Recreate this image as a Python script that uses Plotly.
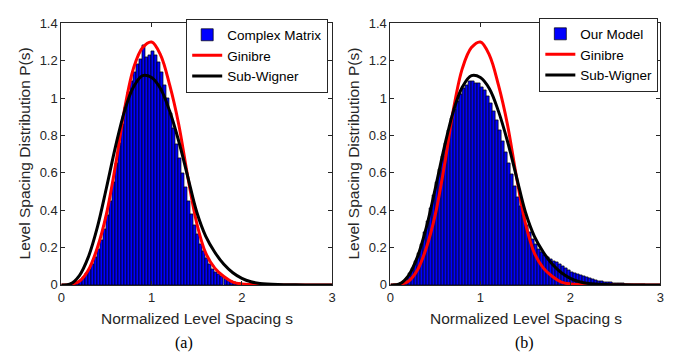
import numpy as np
import plotly.graph_objects as go

# ---------------- data ----------------
BIN = 1 / 30  # histogram bin width
# left panel: Complex Matrix histogram heights (bins of width 1/30 starting at 0)
hist_complex = [
    0, 0, 0.002, 0.005, 0.01, 0.016, 0.026, 0.04, 0.06, 0.085,
    0.11, 0.15, 0.19, 0.24, 0.30, 0.37, 0.45, 0.55, 0.65, 0.76,
    0.86, 0.95, 1.03, 1.09, 1.14, 1.18, 1.21, 1.28, 1.22, 1.23,
    1.25, 1.23, 1.19, 1.14, 1.07, 1.00, 0.92, 0.84, 0.75, 0.68,
    0.60, 0.52, 0.45, 0.38, 0.32, 0.27, 0.22, 0.18, 0.14, 0.11,
    0.085, 0.07, 0.055, 0.045, 0.035, 0.027, 0.02, 0.015, 0.011, 0.008,
    0.006, 0.004, 0.003, 0.002, 0.001, 0.001, 0.001, 0, 0, 0,
    0, 0, 0, 0, 0, 0, 0, 0, 0, 0,
    0, 0, 0, 0, 0, 0, 0, 0, 0, 0,
]
# right panel: Our Model histogram heights
hist_model = [
    0, 0.001, 0.003, 0.008, 0.02, 0.035, 0.06, 0.09, 0.125, 0.17,
    0.22, 0.28, 0.34, 0.41, 0.48, 0.55, 0.62, 0.69, 0.76, 0.83,
    0.89, 0.94, 0.98, 1.02, 1.05, 1.07, 1.09, 1.09, 1.08, 1.08,
    1.06, 1.04, 1.01, 0.97, 0.93, 0.88, 0.83, 0.77, 0.71, 0.65,
    0.59, 0.53, 0.47, 0.42, 0.37, 0.32, 0.28, 0.245, 0.215, 0.19,
    0.172, 0.16, 0.146, 0.135, 0.128, 0.12, 0.11, 0.10, 0.09, 0.08,
    0.07, 0.062, 0.055, 0.05, 0.045, 0.04, 0.035, 0.03, 0.026, 0.022,
    0.019, 0.016, 0.014, 0.012, 0.011, 0.01, 0.009, 0.008, 0.006, 0.004,
    0.003, 0.002, 0.001, 0.001, 0.001, 0, 0, 0, 0, 0,
]
bin_centers = [round((i + 0.5) * BIN, 4) for i in range(len(hist_complex))]

# theoretical curves
s_curve = [0, 0.1, 0.2, 0.3, 0.4, 0.5, 0.6, 0.7, 0.8, 0.9, 1.0, 1.1, 1.2, 1.3,
           1.4, 1.5, 1.6, 1.7, 1.8, 1.9, 2.0, 2.1, 2.2, 2.4, 2.6, 2.8, 3.0]
ginibre = [0, 0.003, 0.02, 0.08, 0.20, 0.38, 0.64, 0.94, 1.16, 1.27, 1.30, 1.23, 1.07, 0.86,
           0.58, 0.33, 0.17, 0.09, 0.045, 0.015, 0.005, 0.002, 0.001, 0, 0, 0, 0]
sub_wigner = [0, 0.005, 0.05, 0.15, 0.31, 0.52, 0.74, 0.93, 1.06, 1.12, 1.11, 1.05, 0.93, 0.77,
              0.58, 0.39, 0.26, 0.175, 0.11, 0.065, 0.035, 0.017, 0.008, 0.002, 0.0005, 0, 0]

x_ticks = [0, 1, 2, 3]
y_ticks = [0, 0.2, 0.4, 0.6, 0.8, 1.0, 1.2, 1.4]
y_tick_text = ["0", "0.2", "0.4", "0.6", "0.8", "1", "1.2", "1.4"]

# ---------------- figure ----------------
W, H = 691, 360
FONT = "Liberation Sans, Arial, Helvetica, sans-serif"
AXC = "#262626"

fig = go.Figure()

def add_panel(hist, hist_name, xa, ya, legend):
    fig.add_trace(go.Bar(
        x=bin_centers, y=hist, width=BIN, name=hist_name,
        marker=dict(color="#0000FF", line=dict(color="#000000", width=0.7)),
        xaxis=xa, yaxis=ya, legend=legend, showlegend=True))
    fig.add_trace(go.Scatter(
        x=s_curve, y=ginibre, mode="lines", name="Ginibre",
        line=dict(color="#FF0000", width=3, shape="spline", smoothing=1.0),
        xaxis=xa, yaxis=ya, legend=legend))
    fig.add_trace(go.Scatter(
        x=s_curve, y=sub_wigner, mode="lines", name="Sub-Wigner",
        line=dict(color="#000000", width=3, shape="spline", smoothing=1.0),
        xaxis=xa, yaxis=ya, legend=legend))

add_panel(hist_complex, "Complex Matrix", "x", "y", "legend")
add_panel(hist_model, "Our Model", "x2", "y2", "legend2")

ydom = [70 / H, 343 / H]
axis_common = dict(
    showline=True, linecolor=AXC, linewidth=1, mirror="ticks",
    ticks="inside", ticklen=4, tickwidth=1, tickcolor=AXC,
    showgrid=False, zeroline=False,
    tickfont=dict(family=FONT, size=13, color=AXC),
)
legend_common = dict(
    xanchor="right", yanchor="top",
    bgcolor="white", bordercolor=AXC, borderwidth=1,
    font=dict(family=FONT, size=13.5, color="#000000"),
    tracegroupgap=0, itemwidth=30,
)
fig.update_layout(
    width=W, height=H,
    margin=dict(l=0, r=0, t=0, b=0),
    paper_bgcolor="white", plot_bgcolor="white",
    barmode="overlay", bargap=0,
    xaxis=dict(domain=[58 / W, 332 / W], range=[0, 3], tickvals=x_ticks, anchor="y", **axis_common),
    yaxis=dict(domain=ydom, range=[0, 1.4], tickvals=y_ticks, ticktext=y_tick_text, anchor="x", **axis_common),
    xaxis2=dict(domain=[391 / W, 664 / W], range=[0, 3], tickvals=x_ticks, anchor="y2", **axis_common),
    yaxis2=dict(domain=ydom, range=[0, 1.4], tickvals=y_ticks, ticktext=y_tick_text, anchor="x2", **axis_common),
    legend=dict(x=328 / W, y=1 - 12 / H, **legend_common),
    legend2=dict(x=662 / W, y=1 - 11 / H, **legend_common),
    showlegend=True,
)

ann = []
def label(text, x, y, size, angle=0, family=FONT, color=AXC):
    ann.append(dict(text=text, x=x / W, y=1 - y / H, xref="paper", yref="paper",
                    xanchor="center", yanchor="middle", showarrow=False, textangle=angle,
                    font=dict(family=family, size=size, color=color)))

label("Normalized Level Spacing s", 195, 325, 15.5)
label("Normalized Level Spacing s", 528, 325, 15.5)
label("Level Spacing Distribution P(s)", 21, 153, 15.5, angle=-90)
label("Level Spacing Distribution P(s)", 354, 153, 15.5, angle=-90)
label("(a)", 182, 351, 16, family="Liberation Serif, DejaVu Serif, serif", color="#000000")
label("(b)", 527, 351, 16, family="Liberation Serif, DejaVu Serif, serif", color="#000000")
fig.update_layout(annotations=ann)

fig.write_html("out.html")
